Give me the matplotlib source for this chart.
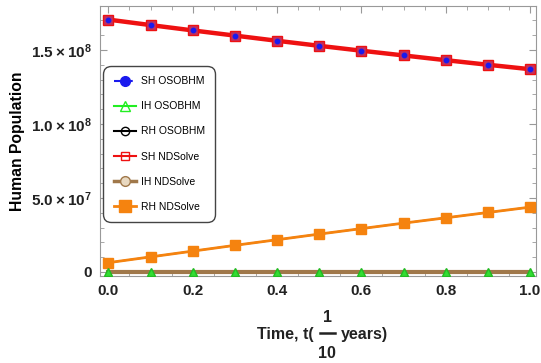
import numpy as np
import matplotlib.pyplot as plt
from matplotlib.lines import Line2D
from matplotlib.ticker import MultipleLocator, FixedLocator

plt.rcParams['font.family'] = ['Liberation Sans', 'DejaVu Sans']
plt.rcParams['mathtext.fontset'] = 'custom'
plt.rcParams['mathtext.rm'] = 'Liberation Sans'
plt.rcParams['mathtext.bf'] = 'Liberation Sans:bold'

t = [0.0, 0.1, 0.2, 0.3, 0.4, 0.5, 0.6, 0.7, 0.8, 0.9, 1.0]

# susceptible, infected, recovered humans
sh_oso = [1.705e8, 1.668e8, 1.632e8, 1.597e8, 1.562e8, 1.528e8,
          1.495e8, 1.463e8, 1.431e8, 1.400e8, 1.370e8]
ih_oso = [0.0, 0.0, 0.0, 0.0, 0.0, 0.0, 0.0, 0.0, 0.0, 0.0, 0.0]
rh_oso = [0.063e8, 0.102e8, 0.141e8, 0.180e8, 0.218e8, 0.256e8,
          0.293e8, 0.330e8, 0.366e8, 0.402e8, 0.438e8]
sh_nd = sh_oso
ih_nd = ih_oso
rh_nd = rh_oso

ytick_vals = [0, 5e7, 1e8, 1.5e8]
ytick_txt = ['0', r'$\mathbf{5.0\times10^{7}}$', r'$\mathbf{1.0\times10^{8}}$',
             r'$\mathbf{1.5\times10^{8}}$']

W, H = 541, 363
fig = plt.figure(figsize=(W / 100, H / 100), dpi=100)
ax = fig.add_axes([0.1848, 0.2397, 0.806, 0.7438])

ax.plot(t, sh_nd, color='#ee1111', lw=3.2, marker='s', ms=7, mfc='#c03060',
        mec='#ee1111', zorder=3)
ax.plot(t, ih_nd, color='#a0784a', lw=3.0, zorder=3)
ax.plot(t, rh_oso, color='#7a4a20', lw=1.2, zorder=3)
ax.plot(t, rh_nd, color='#f5830f', lw=2.0, marker='s', ms=7.5, mfc='#f5830f',
        mec='#f5830f', zorder=4)
ax.plot(t, sh_oso, color='#1a1aee', lw=0, marker='o', ms=3.2, zorder=5)
ax.plot(t, ih_oso, color='#22cc22', lw=0, marker='^', ms=6, mfc='#33dd33',
        mec='#22bb22', zorder=5)

ax.set_xlim(-0.020, 1.0142)
ax.set_ylim(-2.7e6, 1.797e8)

ax.xaxis.set_major_locator(MultipleLocator(0.2))
ax.xaxis.set_minor_locator(MultipleLocator(0.05))
ax.yaxis.set_major_locator(FixedLocator(ytick_vals))
ax.yaxis.set_minor_locator(MultipleLocator(1e7))
ax.set_yticklabels(ytick_txt)
ax.set_xticklabels(['%.1f' % v for v in ax.get_xticks()])

ax.tick_params(which='both', direction='in', top=True, right=True,
               color='#999999', labelsize=11, labelcolor='#222222', pad=6)
ax.tick_params(which='major', length=5)
ax.tick_params(which='minor', length=3)
for lbl in ax.get_xticklabels() + ax.get_yticklabels():
    lbl.set_fontweight('bold')
for s in ax.spines.values():
    s.set_color('#999999')

ax.set_ylabel('Human Population', fontsize=11.3, fontweight='bold')
ax.yaxis.set_label_coords(-0.172, 0.5)

# x label with a stacked 1/10 fraction
lab = dict(fontsize=11.5, fontweight='bold', color='#222222')
fig.text(314 / W, 1 - 335 / H, 'Time, t(', ha='right', va='center', **lab)
fig.text(341 / W, 1 - 335 / H, 'years)', ha='left', va='center', **lab)
fig.text(327 / W, 1 - 317 / H, '1', ha='center', va='center', **lab)
fig.text(327 / W, 1 - 354 / H, '10', ha='center', va='center', **lab)
fig.add_artist(Line2D([319.5 / W, 334.5 / W], [1 - 333 / H, 1 - 333 / H],
                      color='#222222', lw=1.8))

handles = [
    Line2D([], [], color='#1a1aee', ls='--', marker='o', ms=7),
    Line2D([], [], color='#22ee22', marker='^', ms=7, mfc='none'),
    Line2D([], [], color='black', marker='o', ms=6, mfc='none'),
    Line2D([], [], color='#ee1111', marker='s', ms=6, mfc='none'),
    Line2D([], [], color='#a0784a', lw=2.5, marker='o', ms=7, mfc='#e8d8c0'),
    Line2D([], [], color='#f5830f', lw=2, marker='s', ms=8),
]
labels = ['SH OSOBHM', 'IH OSOBHM', 'RH OSOBHM', 'SH NDSolve', 'IH NDSolve',
          'RH NDSolve']
leg = ax.legend(handles, labels, loc='upper left', bbox_to_anchor=(0.0, 0.79),
                fontsize=7.5, handlelength=2.2, labelspacing=1.45,
                handletextpad=0.4, borderpad=0.8, fancybox=True, framealpha=1)
leg.get_frame().set_edgecolor('#444444')
leg.get_frame().set_linewidth(1.0)
leg.get_frame().set_boxstyle('round', pad=0.2, rounding_size=0.8)

fig.savefig('out.png', dpi=100)
